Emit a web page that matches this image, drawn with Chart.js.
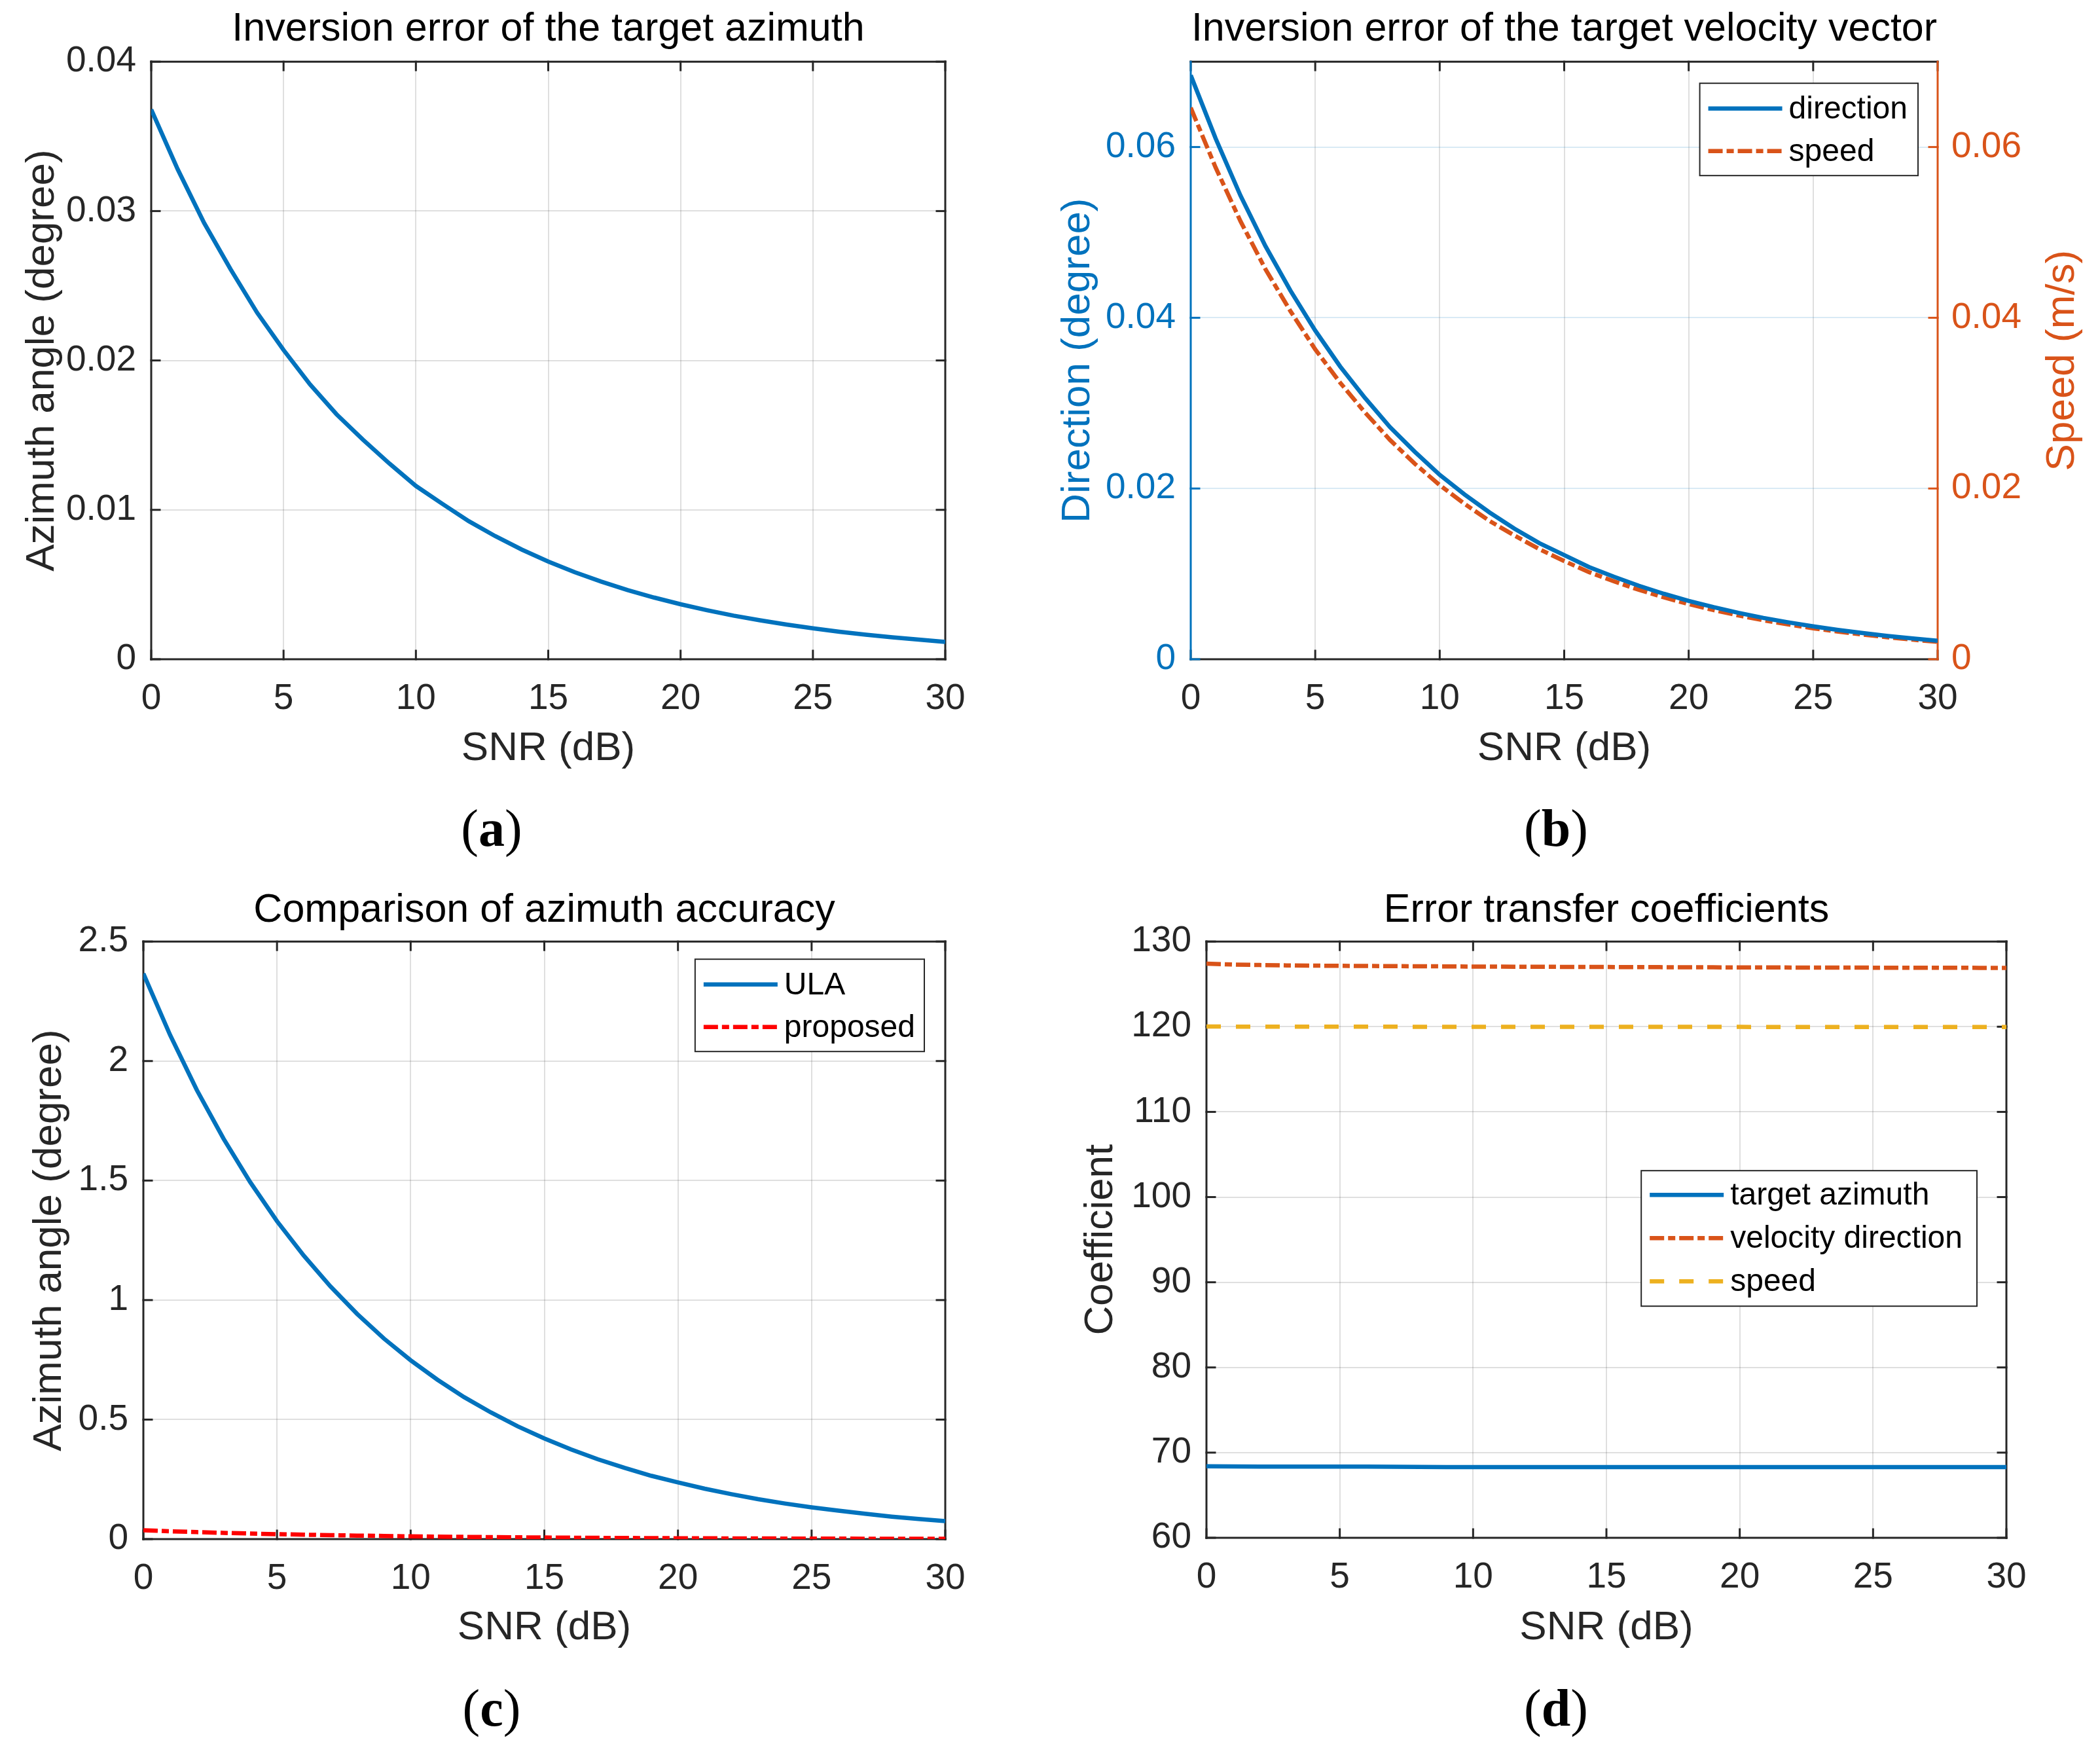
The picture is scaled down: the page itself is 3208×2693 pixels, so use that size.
<!DOCTYPE html>
<html><head><meta charset="utf-8">
<script src="https://cdn.jsdelivr.net/npm/chart.js@4.4.1/dist/chart.umd.min.js"></script>
<style>
html,body{margin:0;padding:0;background:#fff;}
#wrap{position:relative;width:3208px;height:2693px;background:#fff;overflow:hidden;}
canvas{position:absolute;}
.plabel{position:absolute;transform:translate(-50%,-50%);font-family:'Liberation Serif','DejaVu Serif',serif;font-size:80px;line-height:1;color:#000;white-space:nowrap;}
.plabel b{font-weight:bold;}
</style></head><body>
<div id="wrap">
<canvas id="ca" width="1604" height="1220" style="left:0;top:0"></canvas>
<canvas id="cb" width="1604" height="1220" style="left:1604px;top:0"></canvas>
<canvas id="cc" width="1604" height="1220" style="left:0;top:1346px"></canvas>
<canvas id="cd" width="1604" height="1220" style="left:1604px;top:1346px"></canvas>
<div class="plabel" style="left:751px;top:1265px">(<b>a</b>)</div>
<div class="plabel" style="left:2377px;top:1265px">(<b>b</b>)</div>
<div class="plabel" style="left:751px;top:2609px">(<b>c</b>)</div>
<div class="plabel" style="left:2377px;top:2609px">(<b>d</b>)</div>
</div>
<script>
// ---------------- data ----------------
const snr = [0,1,2,3,4,5,6,7,8,9,10,11,12,13,14,15,16,17,18,19,20,21,22,23,24,25,26,27,28,29,30];
const xTicks = [0,5,10,15,20,25,30];

// (a) inversion error of target azimuth (degree)
const azimuthErr = [0.0368,0.0328,0.0292,0.0261,0.0232,0.0207,0.0184,0.0164,0.0147,0.0131,0.0116,0.0104,0.00924,0.00824,0.00734,0.00654,0.00583,0.00520,0.00463,0.00413,0.00368,0.00328,0.00292,0.00261,0.00232,0.00207,0.00184,0.00164,0.00147,0.00131,0.00116];
const yTicksA = [0,0.01,0.02,0.03,0.04];

// (b) inversion error of target velocity vector
const directionErr = [0.0684,0.0610,0.0543,0.0484,0.0432,0.0385,0.0343,0.0306,0.0272,0.0243,0.0216,0.0193,0.0172,0.0153,0.0136,0.0122,0.0108,0.00966,0.00861,0.00767,0.00684,0.00610,0.00543,0.00484,0.00432,0.00385,0.00343,0.00306,0.00272,0.00243,0.00216];
const speedErr = [0.0646,0.0576,0.0513,0.0457,0.0408,0.0363,0.0324,0.0289,0.0257,0.0229,0.0204,0.0182,0.0162,0.0145,0.0129,0.0115,0.0102,0.00913,0.00813,0.00725,0.00646,0.00576,0.00513,0.00457,0.00408,0.00363,0.00324,0.00289,0.00257,0.00229,0.00204];
const yTicksB = [0,0.02,0.04,0.06];

// (c) comparison of azimuth accuracy (degree)
const ulaErr = [2.366,2.109,1.879,1.675,1.493,1.330,1.186,1.057,0.942,0.839,0.748,0.667,0.594,0.530,0.472,0.421,0.375,0.334,0.298,0.265,0.237,0.211,0.188,0.167,0.149,0.133,0.119,0.106,0.094,0.084,0.075];
const proposedErr = [0.0368,0.0328,0.0292,0.0261,0.0232,0.0207,0.0184,0.0164,0.0147,0.0131,0.0116,0.0104,0.00924,0.00824,0.00734,0.00654,0.00583,0.00520,0.00463,0.00413,0.00368,0.00328,0.00292,0.00261,0.00232,0.00207,0.00184,0.00164,0.00147,0.00131,0.00116];
const yTicksC = [0,0.5,1,1.5,2,2.5];

// (d) error transfer coefficients
const coefAzimuth = [68.40,68.37,68.35,68.35,68.35,68.35,68.35,68.34,68.32,68.31,68.31,68.31,68.31,68.31,68.31,68.31,68.31,68.31,68.31,68.31,68.31,68.31,68.31,68.31,68.31,68.31,68.31,68.31,68.31,68.31,68.31];
const coefVelDir = [127.40,127.30,127.24,127.20,127.17,127.15,127.13,127.11,127.10,127.08,127.06,127.05,127.04,127.03,127.02,127.01,127.00,126.99,126.98,126.97,126.96,126.96,126.95,126.94,126.94,126.93,126.93,126.92,126.92,126.91,126.91];
const coefSpeed = [120.02,120.01,120.01,120.00,120.00,120.00,120.00,120.00,119.99,119.99,119.99,119.99,119.99,119.99,119.98,119.98,119.98,119.98,119.98,119.98,119.98,119.97,119.97,119.97,119.97,119.97,119.97,119.97,119.96,119.96,119.96];
const yTicksD = [60,70,80,90,100,110,120,130];

// ---------------- style ----------------
const SANS = "'Liberation Sans', Arial, Helvetica, sans-serif";
const BLUE='#0072BD', ORANGE='#D95319', YELLOW='#EDB120', RED='#FF0000', AXIS='#262626';
const GRID='rgba(38,38,38,0.15)', GRID_B='rgba(0,114,189,0.15)';
const DASHDOT=[22,6,11,6], DASHED=[22,23];
const LW = 6.5;
const TICKFONT = 55, LABELFONT = 62, TITLEFONT = 61;

function pts(ys){ return snr.map((x,i)=>({x:x,y:ys[i]})); }
function fmt(v){ return String(parseFloat(Number(v).toFixed(6))); }

const axesPlugin = {
  id:'matlabAxes',
  beforeDatasetsDraw(chart, args, o){
    const ctx=chart.ctx, a=chart.chartArea, L=o.tickLen;
    const x=chart.scales.x, yl=chart.scales.y, yr=chart.scales.y2;
    ctx.save(); ctx.lineWidth=o.lineWidth; ctx.lineCap='square'; ctx.setLineDash([]);
    const seg=(x1,y1,x2,y2,c)=>{ctx.strokeStyle=c;ctx.beginPath();ctx.moveTo(x1,y1);ctx.lineTo(x2,y2);ctx.stroke();};
    seg(a.left,a.bottom,a.right,a.bottom,o.xColor);
    seg(a.left,a.top,a.right,a.top,o.xColor);
    x.ticks.forEach(t=>{const p=x.getPixelForValue(t.value); seg(p,a.bottom,p,a.bottom-L,o.xColor); seg(p,a.top,p,a.top+L,o.xColor);});
    const rc = yr ? o.rightColor : o.leftColor;
    seg(a.left,a.top,a.left,a.bottom,o.leftColor);
    seg(a.right,a.top,a.right,a.bottom,rc);
    yl.ticks.forEach(t=>{const p=yl.getPixelForValue(t.value); seg(a.left,p,a.left+L,p,o.leftColor); if(!yr) seg(a.right,p,a.right-L,p,o.leftColor);});
    if(yr) yr.ticks.forEach(t=>{const p=yr.getPixelForValue(t.value); seg(a.right,p,a.right-L,p,rc);});
    ctx.restore();
  }
};

const legendPlugin = {
  id:'boxLegend',
  afterDatasetsDraw(chart,args,o){
    if(!o.show) return;
    const ctx=chart.ctx, a=chart.chartArea, ds=chart.data.datasets;
    ctx.save();
    ctx.font = o.fontSize+'px '+SANS;
    const tw = Math.max(...ds.map(d=>ctx.measureText(d.label).width));
    const w = o.padL+o.sample+o.gap+tw+o.padR;
    const h = o.padT+ds.length*o.rowH+o.padB;
    const x0 = a.right-o.right-w, y0=a.top+o.top;
    ctx.fillStyle='#fff'; ctx.fillRect(x0,y0,w,h);
    ctx.lineWidth=2; ctx.strokeStyle=AXIS; ctx.setLineDash([]); ctx.strokeRect(x0,y0,w,h);
    ds.forEach((d,i)=>{
      const cy=y0+o.padT+o.rowH*(i+0.5);
      ctx.strokeStyle=d.borderColor; ctx.lineWidth=d.borderWidth; ctx.lineCap='butt';
      ctx.setLineDash(d.borderDash||[]);
      ctx.beginPath(); ctx.moveTo(x0+o.padL,cy); ctx.lineTo(x0+o.padL+o.sample,cy); ctx.stroke();
      ctx.setLineDash([]);
      ctx.fillStyle='#000'; ctx.textBaseline='middle'; ctx.textAlign='left';
      ctx.fillText(d.label, x0+o.padL+o.sample+o.gap, cy+2);
    });
    ctx.restore();
  }
};

const rightTitlePlugin = {
  id:'rightTitle',
  afterDraw(chart,args,o){
    if(!o.text) return;
    const ctx=chart.ctx, a=chart.chartArea;
    ctx.save();
    ctx.translate(chart.width-o.offset,(a.top+a.bottom)/2);
    ctx.rotate(-Math.PI/2);
    ctx.font=LABELFONT+'px '+SANS; ctx.fillStyle=o.color; ctx.textAlign='center'; ctx.textBaseline='middle';
    ctx.fillText(o.text,0,0);
    ctx.restore();
  }
};

function makeChart(id, c){
  const scales = {
    x:{type:'linear', min:0, max:30,
      afterBuildTicks:s=>{s.ticks=xTicks.map(v=>({value:v}));},
      afterFit:s=>{s.height=c.xHeight;},
      grid:{color:GRID,lineWidth:2,drawTicks:false}, border:{display:false},
      ticks:{padding:28,color:AXIS,font:{family:SANS,size:TICKFONT},maxRotation:0,autoSkip:false,callback:v=>fmt(v)},
      title:{display:true,text:'SNR (dB)',color:AXIS,font:{family:SANS,size:LABELFONT},padding:{top:0,bottom:c.xTitlePad}}},
    y:{type:'linear', position:'left', min:c.yMin, max:c.yMax,
      afterBuildTicks:s=>{s.ticks=c.yTicks.map(v=>({value:v}));},
      afterFit:s=>{s.width=c.yWidth;},
      grid:{color:c.yGrid||GRID,lineWidth:2,drawTicks:false}, border:{display:false},
      ticks:{padding:23,color:c.yColor||AXIS,font:{family:SANS,size:TICKFONT},autoSkip:false,callback:v=>fmt(v)},
      title:{display:true,text:c.yTitle,color:c.yColor||AXIS,font:{family:SANS,size:LABELFONT},padding:{top:c.yTitlePad,bottom:0}}}
  };
  if(c.y2){
    scales.y2 = {type:'linear', position:'right', min:c.yMin, max:c.yMax,
      afterBuildTicks:s=>{s.ticks=c.yTicks.map(v=>({value:v}));},
      afterFit:s=>{s.width=c.y2Width;},
      grid:{display:false,drawTicks:false}, border:{display:false},
      ticks:{padding:21,color:ORANGE,font:{family:SANS,size:TICKFONT},autoSkip:false,callback:v=>fmt(v)},
      title:{display:false}};
  }
  return new Chart(document.getElementById(id), {
    type:'line',
    data:{datasets:c.datasets},
    options:{
      responsive:false, animation:false, devicePixelRatio:1,
      layout:{padding:{left:0,top:0,right:c.padRight,bottom:0}},
      elements:{point:{radius:0},line:{tension:0,fill:false,borderCapStyle:'butt'}},
      scales:scales,
      plugins:{
        legend:{display:false}, tooltip:{enabled:false},
        title:{display:true,text:c.title,color:'#000',fullSize:false,font:{family:SANS,size:TITLEFONT,weight:'normal',lineHeight:1.2},padding:{top:c.titleTop,bottom:c.titleBottom}},
        matlabAxes:{tickLen:13,lineWidth:3,xColor:AXIS,leftColor:c.yColor||AXIS,rightColor:ORANGE},
        boxLegend:c.legend||{show:false},
        rightTitle:c.rightTitle||{}
      }
    },
    plugins:[axesPlugin, legendPlugin, rightTitlePlugin]
  });
}

makeChart('ca', {
  title:'Inversion error of the target azimuth', titleTop:9, titleBottom:12,
  yMin:0, yMax:0.04, yTicks:yTicksA, yWidth:231, yTitle:'Azimuth angle (degree)', yTitlePad:28,
  xHeight:213, xTitlePad:39, padRight:160,
  datasets:[{label:'azimuth', data:pts(azimuthErr), borderColor:BLUE, borderWidth:LW}]
});

makeChart('cb', {
  title:'Inversion error of the target velocity vector', titleTop:9, titleBottom:12,
  yMin:0, yMax:0.07, yTicks:yTicksB, yWidth:215, yTitle:'Direction (degree)', yTitlePad:6,
  yColor:BLUE, yGrid:GRID_B, y2:true, y2Width:248,
  xHeight:213, xTitlePad:39, padRight:0,
  rightTitle:{text:'Speed (m/s)', color:ORANGE, offset:57},
  legend:{show:true, fontSize:48, right:30, top:33, padL:13, sample:113, gap:10, padR:16, padT:6, rowH:65, padB:5},
  datasets:[
    {label:'direction', data:pts(directionErr), borderColor:BLUE, borderWidth:LW, yAxisID:'y'},
    {label:'speed', data:pts(speedErr), borderColor:ORANGE, borderWidth:LW, borderDash:DASHDOT, yAxisID:'y2'}
  ]
});

makeChart('cc', {
  title:'Comparison of azimuth accuracy', titleTop:9, titleBottom:10,
  yMin:0, yMax:2.5, yTicks:yTicksC, yWidth:219, yTitle:'Azimuth angle (degree)', yTitlePad:39,
  xHeight:215, xTitlePad:42, padRight:160,
  legend:{show:true, fontSize:48, right:32, top:27, padL:13, sample:113, gap:10, padR:14, padT:6, rowH:65, padB:5},
  datasets:[
    {label:'ULA', data:pts(ulaErr), borderColor:BLUE, borderWidth:LW},
    {label:'proposed', data:pts(proposedErr), borderColor:RED, borderWidth:LW, borderDash:DASHDOT}
  ]
});

makeChart('cd', {
  title:'Error transfer coefficients', titleTop:9, titleBottom:10,
  yMin:60, yMax:130, yTicks:yTicksD, yWidth:239, yTitle:'Coefficient', yTitlePad:41,
  xHeight:217, xTitlePad:42, padRight:143,
  legend:{show:true, fontSize:48, right:45, top:350, padL:13, sample:113, gap:10, padR:22, padT:4, rowH:66, padB:5},
  datasets:[
    {label:'target azimuth', data:pts(coefAzimuth), borderColor:BLUE, borderWidth:LW},
    {label:'velocity direction', data:pts(coefVelDir), borderColor:ORANGE, borderWidth:LW, borderDash:DASHDOT},
    {label:'speed', data:pts(coefSpeed), borderColor:YELLOW, borderWidth:LW, borderDash:DASHED}
  ]
});
</script>
</body></html>
